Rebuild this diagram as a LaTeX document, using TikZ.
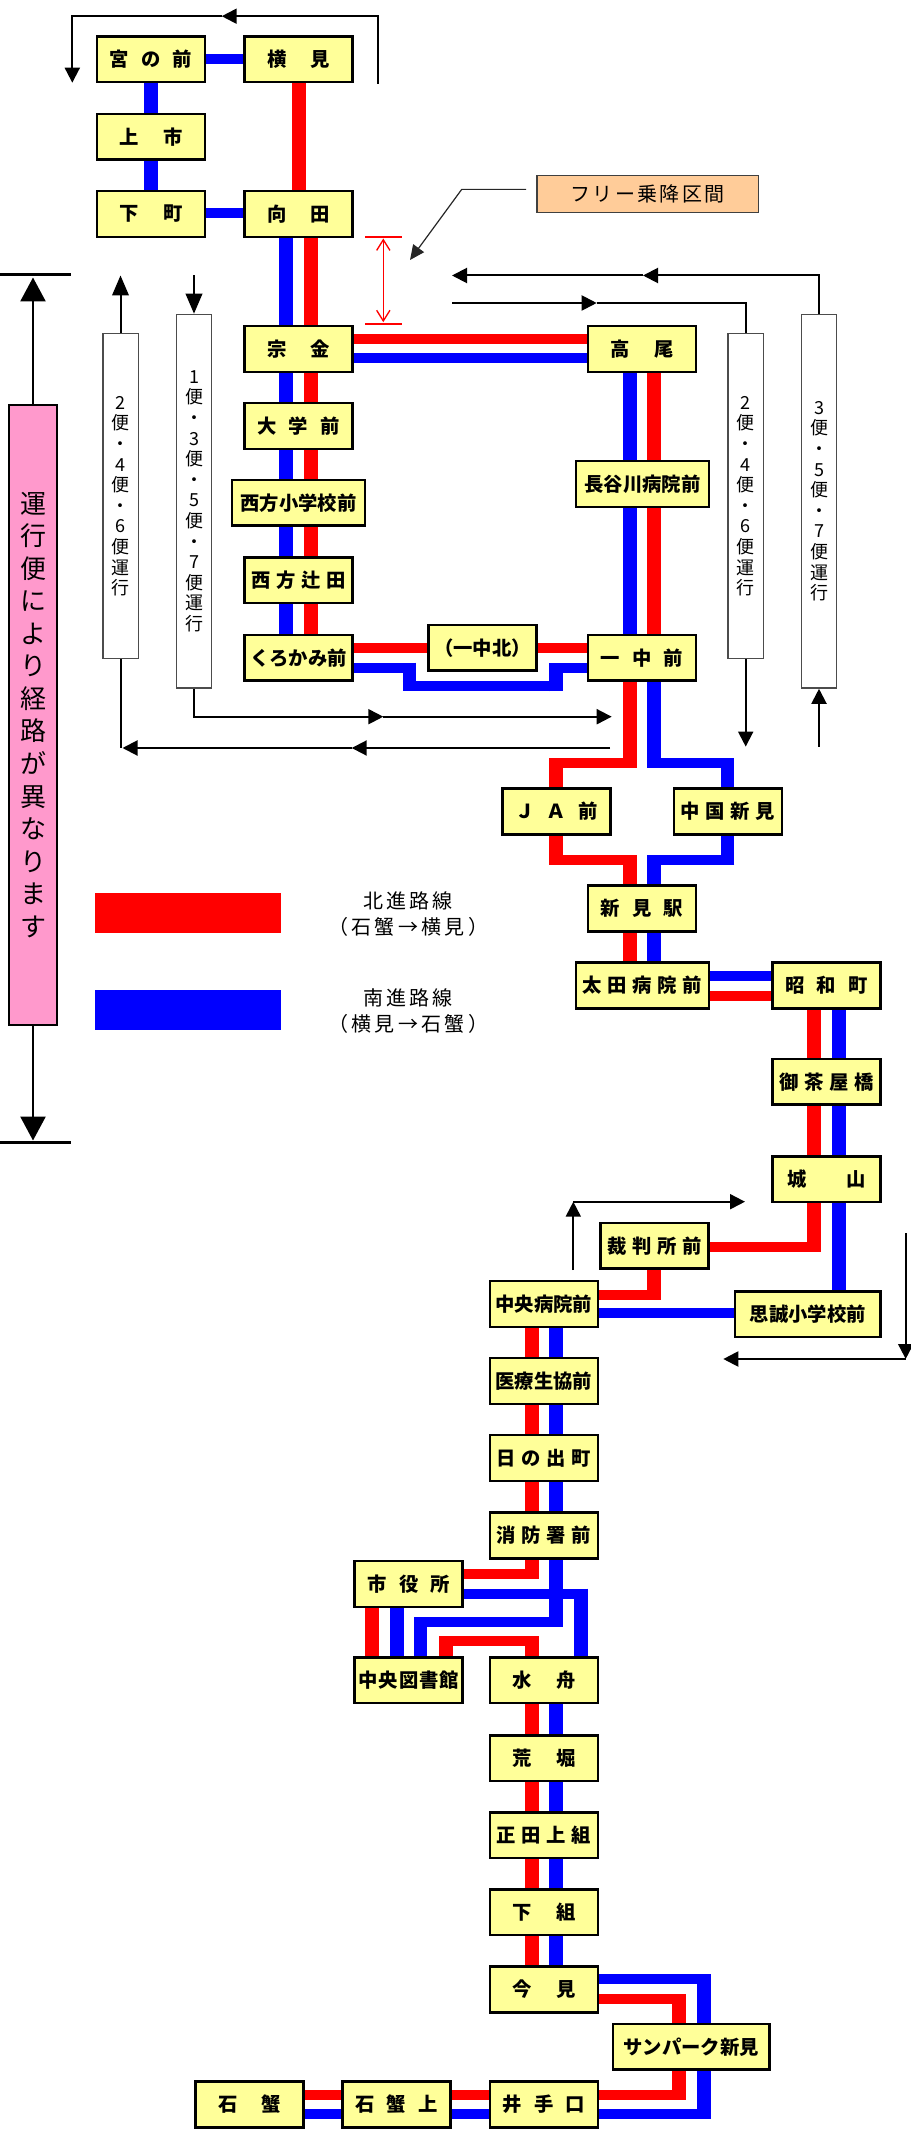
\documentclass[tikz,border=0pt]{standalone}
\usepackage{fontspec}
\setmainfont{Noto Sans CJK JP}
\usetikzlibrary{arrows.meta}
\definecolor{boxy}{HTML}{FFFF99}
\definecolor{pinkb}{HTML}{FF99CC}
\definecolor{orangeb}{HTML}{FFCC99}
\definecolor{bred}{HTML}{FF0000}
\definecolor{bblue}{HTML}{0000FF}
\makeatletter
\newcommand\lsp[2]{\begingroup\def\lsp@g{#1}\let\lsp@sep\relax
  \@tfor\lsp@c:=#2\do{\lsp@sep\lsp@c\def\lsp@sep{\kern\lsp@g}}\endgroup}
\makeatother
\newcommand\stnfont{\bfseries\fontsize{14.5}{17}\selectfont}
\newcommand\vtfont{\fontsize{13.5}{15.45}\selectfont}
\newcommand\pkfont{\fontsize{19.5}{24.4}\selectfont}
\newcommand\lgfont{\fontsize{15}{19.5}\selectfont}
\newcommand\frfont{\fontsize{15}{18}\selectfont}
\begin{document}
\begin{tikzpicture}[x=0.75pt,y=-0.75pt,
  stn/.style={draw=black, line width=1.9pt, fill=boxy, minimum width=81pt,
    minimum height=34.35pt, inner sep=0pt, font=\stnfont},
  wide/.style={minimum width=99.75pt},
  binbox/.style={draw=black!70, line width=1.1pt, fill=white, inner sep=0pt,
    minimum width=26.6pt, align=center, font=\vtfont},
  rH/.style={draw=bred, line width=7.5pt},
  rV/.style={draw=bred, line width=10.1pt},
  bH/.style={draw=bblue, line width=7.5pt},
  bV/.style={draw=bblue, line width=10.1pt},
  ln/.style={draw=black, line width=1.5pt},
  arw/.style={ln, -{Triangle[length=11.25pt,width=11.25pt]}},
  arwB/.style={ln, -{Triangle[length=15pt,width=12.4pt]}},
  parw/.style={draw=black, line width=2pt, -{Triangle[length=18pt,width=18.75pt]}}
]
\useasboundingbox (0,0) rectangle (910,2129);

% ---------------- route bands: blue (southbound) ----------------
\draw[bH] (151,59.4) -- (298.5,59.4);
\draw[bV] (151,59.25) -- (151,213.9);
\draw[bH] (151,213.4) -- (298.5,213.4);
\draw[bV] (286,213.9) -- (286,657.8);
\draw[bH] (298.5,358.2) -- (642,358.2);
\draw[bV] (630,348.9) -- (630,657.8);
\draw[bH] (298.5,667.5) -- (416.25,667.5);
\draw[bV] (409.5,662.5) -- (409.5,691.4);
\draw[bH] (402.75,686.4) -- (562.75,686.4);
\draw[bV] (556,691.4) -- (556,662.5);
\draw[bH] (549.25,667.5) -- (642,667.5);
\draw[bV] (654,657.8) -- (654,768.2);
\draw[bH] (647.25,763.2) -- (734.25,763.2);
\draw[bV] (727.5,758.2) -- (727.5,865.3);
\draw[bH] (734.25,860.3) -- (647.25,860.3);
\draw[bV] (654,855.3) -- (654,985.6);
\draw[bH] (642.5,976.3) -- (826.5,976.3);
\draw[bV] (839,985.6) -- (839,1314.2);
\draw[bH] (807.8,1313.3) -- (543.8,1313.3);
\draw[bV] (556,1303.9) -- (556,1627);
\draw[bH] (562.75,1622) -- (413.95,1622);
\draw[bV] (420.7,1617) -- (420.7,1680.3);
\draw[bV] (396.8,1680.3) -- (396.8,1583.9);
\draw[bH] (408.7,1593.5) -- (587.75,1593.5);
\draw[bV] (581,1588.5) -- (581,1680.3);
\draw[bV] (556,1680.3) -- (556,1989.4);
\draw[bH] (544,1979.3) -- (710.75,1979.3);
\draw[bV] (704,1974.3) -- (704,2119.3);
\draw[bH] (710.75,2114.3) -- (249.5,2114.3);

% ---------------- route bands: red (northbound) ----------------
\draw[rV] (299,59.25) -- (299,213.9);
\draw[rV] (311,213.9) -- (311,657.8);
\draw[rH] (298.5,339.2) -- (642,339.2);
\draw[rV] (654,348.9) -- (654,657.8);
\draw[rH] (298.5,647.8) -- (642,647.8);
\draw[rV] (630,657.8) -- (630,768.2);
\draw[rH] (636.75,763.2) -- (549.25,763.2);
\draw[rV] (556,758.2) -- (556,865.3);
\draw[rH] (549.25,860.3) -- (636.75,860.3);
\draw[rV] (630,855.3) -- (630,985.6);
\draw[rH] (642.5,995.6) -- (826.5,995.6);
\draw[rV] (814,985.6) -- (814,1251.5);
\draw[rH] (820.75,1246.5) -- (654.5,1246.5);
\draw[rV] (654,1245.8) -- (654,1299.5);
\draw[rH] (660.75,1294.5) -- (543.8,1294.5);
\draw[rV] (532,1303.9) -- (532,1579.2);
\draw[rH] (538.75,1574.2) -- (408.7,1574.2);
\draw[rV] (371.8,1583.9) -- (371.8,1680.3);
\draw[rV] (446,1680.3) -- (446,1636.3);
\draw[rH] (439.25,1641.3) -- (538.75,1641.3);
\draw[rV] (532,1636.3) -- (532,1989.4);
\draw[rH] (544,1999.3) -- (685.75,1999.3);
\draw[rV] (679,1994.3) -- (679,2100.3);
\draw[rH] (685.75,2095.3) -- (249.5,2095.3);

% ---------------- stations ----------------
\node[stn] (miyanomae) at (151,59.25) {\lsp{9.2pt}{宮の前}};
\node[stn] (yokomi) at (298.5,59.25) {\lsp{18.1pt}{横見}};
\node[stn] (kamiichi) at (151,136.7) {\lsp{18.1pt}{上市}};
\node[stn] (shimomachi) at (151,213.9) {\lsp{18.1pt}{下町}};
\node[stn] (mukaida) at (298.5,213.9) {\lsp{18.1pt}{向田}};
\node[stn] (munekane) at (298.5,348.9) {\lsp{18.1pt}{宗金}};
\node[stn] (takao) at (642,348.9) {\lsp{18.1pt}{高尾}};
\node[stn] (daigaku) at (298.5,426) {\lsp{9.2pt}{大学前}};
\node[stn,wide] (nishikata) at (298.5,502.8) {西方小学校前};
\node[stn,wide] (hasegawa) at (642.5,483.9) {長谷川病院前};
\node[stn] (tsujita) at (298.5,580.2) {\lsp{4.3pt}{西方辻田}};
\node[stn] (kurokami) at (298.5,657.8) {くろかみ前};
\node[stn] (ichukita) at (482.6,647.8) {（一中北）};
\node[stn] (ichumae) at (642,657.8) {\lsp{9.2pt}{一中前}};
\node[stn] (jamae) at (556.5,811.4) {\lsp{9.2pt}{ＪＡ前}};
\node[stn] (chugoku) at (728,811.4) {\lsp{4.3pt}{中国新見}};
\node[stn] (niimi) at (642,908.5) {\lsp{9.2pt}{新見駅}};
\node[stn,wide] (ota) at (642.5,985.6) {\lsp{4.3pt}{太田病院前}};
\node[stn] (showa) at (826.5,985.6) {\lsp{9.2pt}{昭和町}};
\node[stn] (ochaya) at (826.5,1081.8) {\lsp{4.3pt}{御茶屋橋}};
\node[stn] (shiroyama) at (826.5,1179.2) {\lsp{29.8pt}{城山}};
\node[stn] (saiban) at (654.5,1245.8) {\lsp{4.3pt}{裁判所前}};
\node[stn,minimum width=109.35pt] (shisei) at (807.85,1314.2) {思誠小学校前};
\node[stn] (chuobyoin) at (543.8,1303.9) {中央病院前};
\node[stn] (iryo) at (543.8,1381) {医療生協前};
\node[stn] (hinode) at (543.8,1458) {\lsp{4.3pt}{日の出町}};
\node[stn] (shobo) at (543.8,1535.6) {\lsp{4.3pt}{消防署前}};
\node[stn] (shiyakusho) at (408.7,1583.9) {\lsp{9.2pt}{市役所}};
\node[stn] (toshokan) at (408.7,1680.3) {\lsp{0.8pt}{中央図書館}};
\node[stn] (mizufune) at (544,1680.3) {\lsp{18.1pt}{水舟}};
\node[stn] (arabori) at (544,1758.2) {\lsp{18.1pt}{荒堀}};
\node[stn] (shodakami) at (544,1835.2) {\lsp{4.3pt}{正田上組}};
\node[stn] (shimogumi) at (544,1912.2) {\lsp{18.1pt}{下組}};
\node[stn] (imami) at (544,1989.4) {\lsp{18.1pt}{今見}};
\node[stn,minimum width=117.6pt] (sunpark) at (691.3,2046.8) {サンパーク新見};
\node[stn] (idenokuchi) at (544,2104.5) {\lsp{9.2pt}{井手口}};
\node[stn] (ishigani) at (249.5,2104.5) {\lsp{18.1pt}{石蟹}};
\node[stn] (ishiganikami) at (396.6,2104.5) {\lsp{9.2pt}{石蟹上}};

% ---------------- trip boxes ----------------
\node[binbox, minimum height=243.75pt] (binL) at (120.5,496.25)
  {2\\便\\・\\4\\便\\・\\6\\便\\運\\行};
\node[binbox, minimum height=280.2pt] (binA) at (194,501.25)
  {1\\便\\・\\3\\便\\・\\5\\便\\・\\7\\便\\運\\行};
\node[binbox, minimum height=243.75pt] (binR) at (745.7,496.25)
  {2\\便\\・\\4\\便\\・\\6\\便\\運\\行};
\node[binbox, minimum height=280.2pt] (binB) at (819,501.25)
  {3\\便\\・\\5\\便\\・\\7\\便\\運\\行};

% ---------------- pink note ----------------
\node[draw=black, line width=1.5pt, fill=pinkb, inner sep=0pt, minimum width=36pt,
  minimum height=464.7pt, align=center, font=\pkfont] (pink) at (33,714.8)
  {運\\行\\便\\に\\よ\\り\\経\\路\\が\\異\\な\\り\\ま\\す};
\draw[line width=2.25pt] (0,274.5) -- (71,274.5);
\draw[line width=2.25pt] (0,1142.3) -- (71,1142.3);
\draw[parw] (pink.north) -- (33,277.5);
\draw[parw] (pink.south) -- (33,1140.5);

% ---------------- free boarding label ----------------
\node[draw=black!75, line width=1.1pt, fill=orangeb, inner sep=0pt,
  minimum width=166.1pt, minimum height=27.75pt, font=\frfont] (free) at (647.5,194.25)
  {\lsp{1.8pt}{フリー乗降区間}};
\draw[draw=black!85, line width=0.9pt, -{Triangle[length=11pt,width=10pt]}]
  (526,189.4) -- (461.7,189.4) -- (410,260);
\draw[red, line width=1.5pt] (365,237) -- (402,237);
\draw[red, line width=1.5pt] (365,323.7) -- (402,323.7);
\draw[red, line width=1pt, {Straight Barb[length=8pt,width=10pt]}-{Straight Barb[length=8pt,width=10pt]}]
  (383.3,238.5) -- (383.3,322.2);

% ---------------- black trip arrows ----------------
\draw[arw] (378.3,83.7) |- (221.7,16.2);
\draw[arw] (221.7,16.2) -| (72.3,82.7);

\draw[arwB] (binL.north) -- (120.5,275.5);
\draw[ln] (binL.south) -- (120.5,748);
\draw[arw] (610,748) -- (351.7,748);
\draw[arw] (351.7,748) -- (122.5,748);

\draw[arwB] (194,275.5) -- (binA.north);
\draw[arw] (binA.south) |- (383.3,716.7);
\draw[arw] (383.3,716.7) -- (611.7,716.7);

\draw[arw] (binB.north) |- (643,275.5);
\draw[arw] (643,275.5) -- (452,275.5);
\draw[arw] (819,746.6) -- (binB.south);

\draw[arw] (452,303) -- (596.7,303);
\draw[ln] (596.7,303) -| (binR.north);
\draw[arw] (binR.south) -- (745.7,746.6);

\draw[arw] (573.3,1270) -- (573.3,1201.7);
\draw[arw] (573.3,1201.7) -- (745,1201.7);
\draw[arw] (905.7,1233.3) -- (905.7,1359);
\draw[arw] (905.7,1359) -- (723.3,1359);

% ---------------- legend ----------------
\node[fill=bred, inner sep=0pt, minimum width=139.5pt, minimum height=29.7pt] (legN) at (188,912.8) {};
\node[fill=bblue, inner sep=0pt, minimum width=139.5pt, minimum height=29.7pt] (legS) at (188,1009.9) {};
\node[align=center, font=\lgfont, inner sep=0pt] (legNt) at (408,914.5)
  {\lsp{2.5pt}{北進路線}\\\lsp{2.5pt}{（石蟹→横見）}};
\node[align=center, font=\lgfont, inner sep=0pt] (legSt) at (408,1011)
  {\lsp{2.5pt}{南進路線}\\\lsp{2.5pt}{（横見→石蟹）}};
\end{tikzpicture}
\end{document}
